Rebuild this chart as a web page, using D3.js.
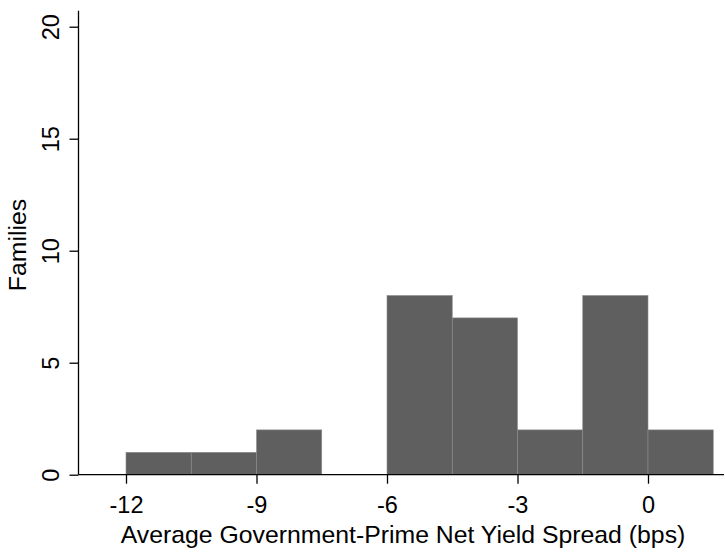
<!DOCTYPE html>
<html>
<head>
<meta charset="utf-8">
<script src="https://cdn.jsdelivr.net/npm/d3@7"></script>
<style>
  html, body { margin: 0; padding: 0; background: #fff; }
  svg { display: block; font-family: "Liberation Sans", Arial, sans-serif; }
</style>
</head>
<body>
<svg id="chart" width="725" height="552"></svg>
<script>
// Histogram bins (left edges, bps) with width 1.5, and family counts per bin
const binStarts = [-12, -10.5, -9, -7.5, -6, -4.5, -3, -1.5, 0];
const binWidth = 1.5;
const counts = [1, 1, 2, 0, 8, 7, 2, 8, 2];
const xTicks = [-12, -9, -6, -3, 0];
const yTicks = [0, 5, 10, 15, 20];
const xTitle = "Average Government-Prime Net Yield Spread (bps)";
const yTitle = "Families";

const svg = d3.select("#chart");
const plotLeft = 78.5, plotRight = 724, plotBottom = 474.7, plotTop = 26.7;

const x = d3.scaleLinear().domain([-12, 0]).range([126, 648]);
const y = d3.scaleLinear().domain([0, 20]).range([plotBottom, plotTop]);

// plain hyphen for negative numbers
const fmt = d => String(d);

const bins = binStarts.map((s, i) => ({ x0: s, x1: s + binWidth, n: counts[i] }));

// bars
svg.append("g").selectAll("rect")
  .data(bins.filter(d => d.n > 0))
  .join("rect")
  .attr("x", d => x(d.x0))
  .attr("y", d => y(d.n))
  .attr("width", d => x(d.x1) - x(d.x0))
  .attr("height", d => y(0) - y(d.n))
  .attr("fill", "#5f5f5f")
  .attr("stroke", "#8c8c8c")
  .attr("stroke-width", 0.6);

// x axis
const xAxis = d3.axisBottom(x).tickValues(xTicks).tickSize(9).tickPadding(13).tickFormat(fmt);
const gx = svg.append("g").attr("transform", `translate(0,${plotBottom})`).call(xAxis);
gx.select(".domain").remove();
gx.append("line").attr("x1", plotLeft).attr("x2", plotRight).attr("y1", 0).attr("y2", 0)
  .attr("stroke", "#000").attr("stroke-width", 1.3);
gx.selectAll(".tick line").attr("stroke", "#000").attr("stroke-width", 1.3);
gx.selectAll(".tick text").attr("fill", "#000").attr("font-size", 23.5)
  .attr("font-family", "Liberation Sans, Arial, sans-serif");

// y axis
const yAxis = d3.axisLeft(y).tickValues(yTicks).tickSize(9).tickFormat(fmt);
const gy = svg.append("g").attr("transform", `translate(${plotLeft},0)`).call(yAxis);
gy.select(".domain").remove();
gy.append("line").attr("x1", 0).attr("x2", 0).attr("y1", plotTop - 16).attr("y2", plotBottom)
  .attr("stroke", "#000").attr("stroke-width", 1.3);
gy.selectAll(".tick line").attr("stroke", "#000").attr("stroke-width", 1.3);
gy.selectAll(".tick text")
  .attr("fill", "#000").attr("font-size", 23.5)
  .attr("font-family", "Liberation Sans, Arial, sans-serif")
  .attr("x", null).attr("dy", null)
  .attr("text-anchor", "middle")
  .attr("transform", "translate(-20,0) rotate(-90)")
  .attr("y", 0);

// axis titles
svg.append("text")
  .attr("x", 403).attr("y", 543)
  .attr("text-anchor", "middle")
  .attr("font-size", 24.8)
  .attr("fill", "#000")
  .text(xTitle);

svg.append("text")
  .attr("transform", `translate(26,245) rotate(-90)`)
  .attr("text-anchor", "middle")
  .attr("font-size", 24.8)
  .attr("fill", "#000")
  .text(yTitle);
</script>
</body>
</html>
